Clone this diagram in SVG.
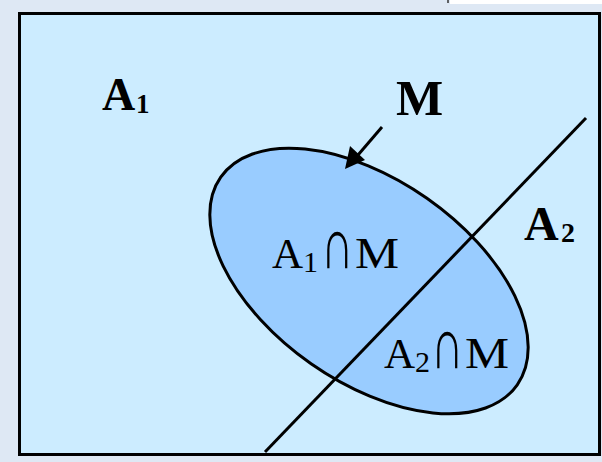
<svg xmlns="http://www.w3.org/2000/svg" width="602" height="462" viewBox="0 0 602 462">
<defs>
<style>
.lb{font-family:"Liberation Serif","Times New Roman",serif;font-weight:bold;fill:#000}
.lr{font-family:"Liberation Serif","Times New Roman",serif;fill:#000}
</style>
</defs>
<rect x="0" y="0" width="602" height="462" fill="#DEE8F4"/>
<rect x="450" y="0" width="152" height="4" fill="#FFFFFF"/>
<line x1="448" y1="0" x2="448" y2="3" stroke="#333" stroke-width="1.5"/>
<g id="universe">
<rect x="19.5" y="13.5" width="580" height="441" fill="#CCECFF" stroke="#000" stroke-width="3"/>
</g>
<g id="set-M">
<ellipse cx="369" cy="281" rx="181" ry="101" transform="rotate(35 369 281)" fill="#99CCFF" stroke="#000" stroke-width="3"/>
</g>
<g id="connectors">
<line x1="265" y1="452" x2="586" y2="118" stroke="#000" stroke-width="3"/>
<path d="M382,127 L358,155" stroke="#000" stroke-width="3" fill="none"/>
<path d="M345,169 L350,146 L365,160 Z" fill="#000"/>
</g>
<g id="label-A1">
<text class="lb" x="102" y="110" font-size="46">A<tspan x="136" y="113" font-size="27">1</tspan></text>
</g>
<g id="label-M">
<text class="lb" x="396" y="115" font-size="50">M</text>
</g>
<g id="label-A2">
<text class="lb" x="524" y="240" font-size="48">A<tspan x="561" y="242" font-size="28">2</tspan></text>
</g>
<g id="label-A1M">
<text class="lr" x="272" y="268" font-size="43">A<tspan x="303" y="272" font-size="30">1</tspan></text>
<text class="lr" transform="translate(321 268) scale(1 1.6)" font-size="45">∩</text>
<text class="lr" x="355" y="268" font-size="45" textLength="44" lengthAdjust="spacingAndGlyphs">M</text>
</g>
<g id="label-A2M">
<text class="lr" x="384" y="368" font-size="43">A<tspan x="415" y="372" font-size="30">2</tspan></text>
<text class="lr" transform="translate(431 368) scale(1 1.6)" font-size="45">∩</text>
<text class="lr" x="465" y="368" font-size="45" textLength="44" lengthAdjust="spacingAndGlyphs">M</text>
</g>
</svg>
